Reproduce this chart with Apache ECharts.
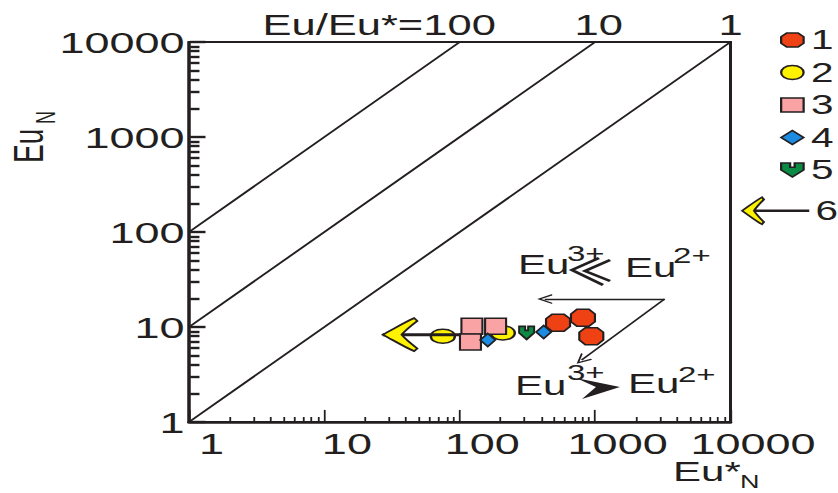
<!DOCTYPE html>
<html>
<head>
<meta charset="utf-8">
<title>Eu vs Eu*</title>
<script src="https://cdn.jsdelivr.net/npm/echarts/dist/echarts.min.js"></script>
<style>
  html, body { margin: 0; padding: 0; background: #fff; overflow: hidden; }
  /* the original figure is stretched sideways, so draw narrow and stretch */
  #main { width: 559px; height: 493px; transform: scaleX(1.5); transform-origin: 0 0; }
</style>
</head>
<body>
<div id="main"></div>
<script>
  // samples: [Eu*_N, Eu_N]
  var group1 = [[532, 11.1], [813, 12.5], [937, 8.0]];
  var group2 = [[75, 8.0], [208, 8.66]];
  var group3 = [[123, 10.2], [184, 10.2], [120, 6.95]];
  var group4 = [[161, 7.3], [417, 8.86]];
  var group5 = [[312, 8.66]];
  var group6 = [[130, 8.3], [27, 8.3]]; // tail, tip

  // Eu/Eu* reference lines
  var ratio1 = [[1, 1], [10000, 10000]];
  var ratio10 = [[1, 10], [1000, 10000]];
  var ratio100 = [[1, 100], [100, 10000]];

  // annotation arrows
  var arrowApex = [3260, 19.7];
  var arrowLeftTip = [424, 19.7];
  var arrowDownTip = [795, 4.49];

  var tickLabels = ['1', '10', '100', '1000', '10000'];
  var majorTicks = [1, 10, 100, 1000, 10000];
  var minorTicks = [2, 3, 4, 5, 6, 7, 8, 9,
    20, 30, 40, 50, 60, 70, 80, 90,
    200, 300, 400, 500, 600, 700, 800, 900,
    2000, 3000, 4000, 5000, 6000, 7000, 8000, 9000];

  var ink = '#231f20';
  var font = 'Liberation Sans, Arial, Helvetica, sans-serif';

  var redPath = 'path://M3,0 L9,0 L12,3 L12,8 L9,11 L3,11 L0,8 L0,3 Z';
  var ovalPath = 'path://M6,0 C10,0 12,2.5 12,5 C12,7.5 10,10 6,10 C2,10 0,7.5 0,5 C0,2.5 2,0 6,0 Z';
  var shieldPath = 'path://M0,0 L4,0 L4,3 L6,3 L6,0 L10,0 L10,5 L5,10 L0,5 Z';
  var headPath = 'path://M0,18 C10,12 20,5 30,0 L33,3 C26,9 21,14 18,18 C21,22 26,27 33,33 L30,36 C20,31 10,24 0,18 Z';
  var arrowIcon = headPath + ' M19,17.2 L100,17.2 L100,18.8 L19,18.8 Z';
  var chevron = 'path://M5,0 L10,10 L8.6,10 L5,2.8 L1.4,10 L0,10 Z';

  function scatter(name, data, symbol, size, color, z) {
    return {
      name: name, type: 'scatter', data: data, symbol: symbol, symbolSize: size, z: z,
      itemStyle: { color: color, borderColor: ink, borderWidth: 1.5, opacity: 1 }
    };
  }

  function refLine(data) {
    return {
      type: 'line', data: data, symbol: 'none', silent: true, z: 2,
      lineStyle: { color: ink, width: 1.6 }
    };
  }

  function tickMarks(pairs, width) {
    return {
      silent: true, animation: false, z: 50, symbol: ['none', 'none'],
      label: { show: false }, emphasis: { disabled: true },
      lineStyle: { color: ink, width: width, type: 'solid' },
      data: pairs
    };
  }

  // tick marks inside the frame, length given as a factor along the log axis
  var xMinorLen = 1.129, xMajorLen = 1.34, yStart = 1.02, yMinorLen = 1.195, yMajorLen = 1.324;
  var xTickPairs = [], yTickPairs = [];
  minorTicks.forEach(function (v) {
    xTickPairs.push([{ coord: [v, 1] }, { coord: [v, xMinorLen] }]);
    yTickPairs.push([{ coord: [yStart, v] }, { coord: [yMinorLen, v] }]);
  });
  majorTicks.forEach(function (v) {
    xTickPairs.push([{ coord: [v, 1] }, { coord: [v, xMajorLen] }]);
    yTickPairs.push([{ coord: [yStart, v] }, { coord: [yMajorLen, v] }]);
  });

  function txt(text, x, y, size, rot) {
    return {
      type: 'text', x: x, y: y, rotation: rot || 0, z: 20,
      style: { text: text, fill: ink, fontSize: size, fontFamily: font, align: 'left', verticalAlign: 'middle' }
    };
  }

  var chart = echarts.init(document.getElementById('main'), null, { renderer: 'svg' });

  var line1 = refLine(ratio1);
  line1.markLine = {
    silent: true, animation: false,
    symbol: ['none', chevron], symbolSize: [10, 10],
    label: { show: false },
    lineStyle: { color: ink, width: 1.3, type: 'solid' },
    data: [
      [{ coord: arrowApex }, { coord: arrowLeftTip }],
      [{ coord: arrowApex }, { coord: arrowDownTip }]
    ]
  };
  var line10 = refLine(ratio10);
  line10.markLine = tickMarks(xTickPairs, 1.2);
  var line100 = refLine(ratio100);
  line100.markLine = tickMarks(yTickPairs, 2.4);

  var legendText = { color: ink, fontSize: 27, fontFamily: font, lineHeight: 20 };

  var option = {
    backgroundColor: '#ffffff',
    animation: false,
    grid: { left: 126, right: 72, top: 42, bottom: 71, show: true, borderColor: ink, borderWidth: 2 },
    xAxis: {
      type: 'log', logBase: 10, min: 1, max: 10000,
      axisLine: { show: true, lineStyle: { color: ink, width: 2.5 } },
      axisTick: { show: false },
      axisLabel: {
        color: ink, fontSize: 30, fontFamily: font, margin: 6, padding: [0, 0, 0, 30],
        formatter: function (v, i) { return tickLabels[i]; }
      },
      splitLine: { show: false }
    },
    yAxis: {
      type: 'log', logBase: 10, min: 1, max: 10000,
      axisLine: { show: true, lineStyle: { color: ink, width: 2 } },
      axisTick: { show: false },
      axisLabel: {
        color: ink, fontSize: 30, fontFamily: font, margin: 3,
        formatter: function (v, i) { return tickLabels[i]; }
      },
      splitLine: { show: false }
    },
    legend: [
      {
        orient: 'vertical', left: 520, top: 26.5, padding: 0,
        itemWidth: 15, itemHeight: 14, itemGap: 5.5,
        symbolKeepAspect: false, selectedMode: false,
        itemStyle: { borderColor: ink, borderWidth: 1.5 },
        textStyle: legendText,
        data: [
          { name: '1', icon: redPath },
          { name: '2', icon: ovalPath },
          { name: '3', icon: 'rect' },
          { name: '4', icon: 'diamond' },
          { name: '5', icon: shieldPath }
        ]
      },
      {
        orient: 'vertical', left: 494, top: 196.5, padding: 0,
        itemWidth: 44, itemHeight: 27,
        symbolKeepAspect: false, selectedMode: false,
        itemStyle: { borderColor: ink, borderWidth: 1.5 },
        textStyle: legendText,
        data: [{ name: '6', icon: arrowIcon }]
      }
    ],
    series: [
      line1,
      line10,
      line100,
      scatter('1', group1, redPath, [16, 17], '#ee4215', 8),
      scatter('2', group2, ovalPath, [16, 14], '#fff200', 4),
      scatter('3', group3, 'rect', [14, 16], '#f9a3a4', 6),
      scatter('4', group4, 'diamond', [10, 13], '#1c8ce3', 7),
      scatter('5', group5, shieldPath, [10, 13], '#0b8a44', 7),
      {
        name: '6', type: 'line', z: 5,
        data: [
          { value: group6[0], symbol: 'none' },
          { value: group6[1], symbol: headPath, symbolSize: [23, 33], symbolOffset: [11.5, 0] }
        ],
        lineStyle: { color: ink, width: 3 },
        itemStyle: { color: '#fff200', borderColor: ink, borderWidth: 1.5 }
      }
    ],
    graphic: [
      txt('Eu/Eu*=100', 175, 25, 29),
      txt('10', 383, 25, 29),
      txt('1', 479, 25, 29),
      txt('Eu', 19.3, 163, 28, Math.PI / 2),
      txt('N', 30.3, 124, 18, Math.PI / 2),
      txt('Eu*', 448.7, 472, 28),
      txt('N', 493.3, 482, 18),
      txt('Eu', 345.3, 265, 28),
      txt('3+', 378, 253.5, 22),
      txt('Eu', 416.7, 267.5, 28),
      txt('2+', 448.7, 256, 22),
      txt('Eu', 343.3, 386, 28),
      txt('3+', 378, 372.5, 22),
      txt('Eu', 418.7, 384, 28),
      txt('2+', 452, 375, 22),
      { type: 'polyline', z: 20, shape: { points: [[399.3, 258], [381.3, 270], [402, 285]] }, style: { stroke: ink, lineWidth: 2.5, fill: null } },
      { type: 'polyline', z: 20, shape: { points: [[406.7, 260], [390, 271], [406.7, 281]] }, style: { stroke: ink, lineWidth: 2.5, fill: null } },
      { type: 'polygon', z: 20, shape: { points: [[384, 378], [413.3, 387], [388, 399], [397.3, 387]] }, style: { fill: ink } }
    ]
  };

  chart.setOption(option);
</script>
</body>
</html>
